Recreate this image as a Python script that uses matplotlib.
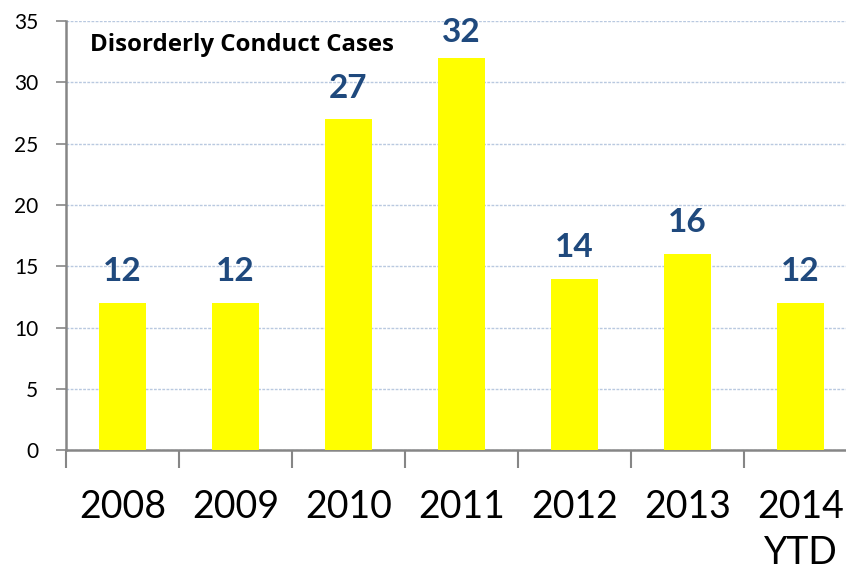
import matplotlib.pyplot as plt

years = ["2008", "2009", "2010", "2011", "2012", "2013", "2014\nYTD"]
cases = [12, 12, 27, 32, 14, 16, 12]

fig = plt.figure(figsize=(8.46, 5.74), dpi=100)
# the plot area runs a bit past the right edge in the original
ax = fig.add_axes([0.078, 0.216, 0.935, 0.747])

x = range(len(years))
bars = ax.bar(x, cases, width=0.42, color="#FFFF00", zorder=3)
for xi, v in zip(x, cases):
    off = 8 if v > 30 else 12   # the top label sits squeezed under the edge
    ax.annotate(str(v), (xi, v), xytext=(0, off), textcoords="offset points",
                ha="center", va="bottom", fontsize=24, fontweight="bold",
                color="#1F497D", family="Lato")

ax.set_xlim(-0.5, len(years) - 0.5)
ax.set_ylim(0, 35)
ax.set_yticks(range(0, 36, 5))
ax.set_xticks([i - 0.5 for i in range(len(years))], minor=False)
ax.set_xticklabels([])
ax.set_xticks(list(x), minor=True)
ax.set_xticklabels(years, minor=True, fontsize=27, family="Lato", linespacing=1.35)
ax.tick_params(axis="x", which="major", length=13, width=1.5, color="#868686")
ax.tick_params(axis="x", which="minor", length=0, pad=28)
ax.tick_params(axis="y", length=7, width=1.2, color="#868686", labelsize=15, pad=13)
for lbl in ax.get_yticklabels():
    lbl.set_family("Lato")

ax.grid(axis="y", color="#B9C9E0", linestyle=(0, (2, 1)), linewidth=1, zorder=0)
for s in ["top", "right"]:
    ax.spines[s].set_visible(False)
for s in ["left", "bottom"]:
    ax.spines[s].set_color("#868686")
    ax.spines[s].set_linewidth(1.8)

ax.text(0.030, 0.972, "Disorderly Conduct Cases", transform=ax.transAxes,
        fontsize=17.3, fontweight="bold", family="Open Sans", va="top")

fig.savefig("out.png", dpi=100)
